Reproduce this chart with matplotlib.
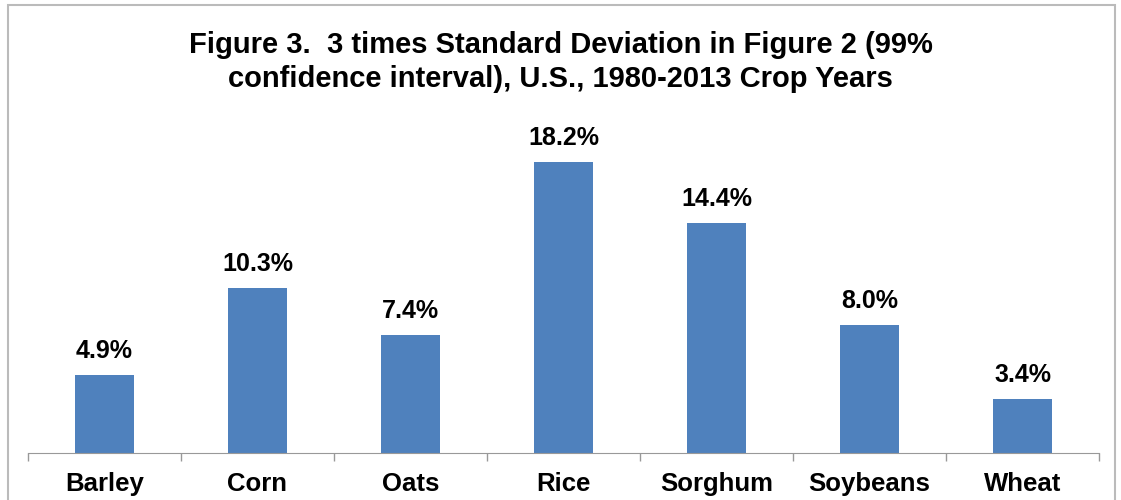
import numpy as np
import matplotlib.pyplot as plt
from matplotlib.patches import Rectangle

crops = ['Barley', 'Corn', 'Oats', 'Rice', 'Sorghum', 'Soybeans', 'Wheat']
values = [4.9, 10.3, 7.4, 18.2, 14.4, 8.0, 3.4]

plt.rcParams['font.family'] = ['Liberation Sans', 'DejaVu Sans']

fig = plt.figure(figsize=(11.21, 5.0), dpi=100)
ax = fig.add_axes([28 / 1121, 47 / 500, 1071 / 1121, 320 / 500])

x = np.arange(len(crops))
ax.bar(x, values, width=0.39, color='#4F81BD')
for xi, v in zip(x, values):
    ax.text(xi, v + 0.75, f'{v:.1f}%', ha='center', va='bottom',
            fontsize=18, fontweight='bold')

ax.set_xlim(-0.5, len(crops) - 0.5)
ax.set_ylim(0, 20)
ax.set_yticks([])
ax.set_xticks(x)
ax.set_xticklabels(crops, fontsize=18.5, fontweight='bold')
ax.tick_params(axis='x', which='major', length=0, pad=14)
ax.set_xticks(np.arange(-0.5, len(crops)), minor=True)
ax.tick_params(axis='x', which='minor', length=6, color='#999999', width=1)
for side in ['top', 'right', 'left']:
    ax.spines[side].set_visible(False)
ax.spines['bottom'].set_color('#999999')

fig.text(0.5, 0.876, 'Figure 3.  3 times Standard Deviation in Figure 2 (99%\n'
         'confidence interval), U.S., 1980-2013 Crop Years',
         ha='center', va='center', fontsize=21, fontweight='bold',
         linespacing=1.25)

fig.patches.append(Rectangle((8 / 1121, -0.05), 1107 / 1121, 1.04,
                             transform=fig.transFigure, fill=False,
                             edgecolor='#BBBBBB', linewidth=1.5))

fig.savefig('out.png', dpi=100)
